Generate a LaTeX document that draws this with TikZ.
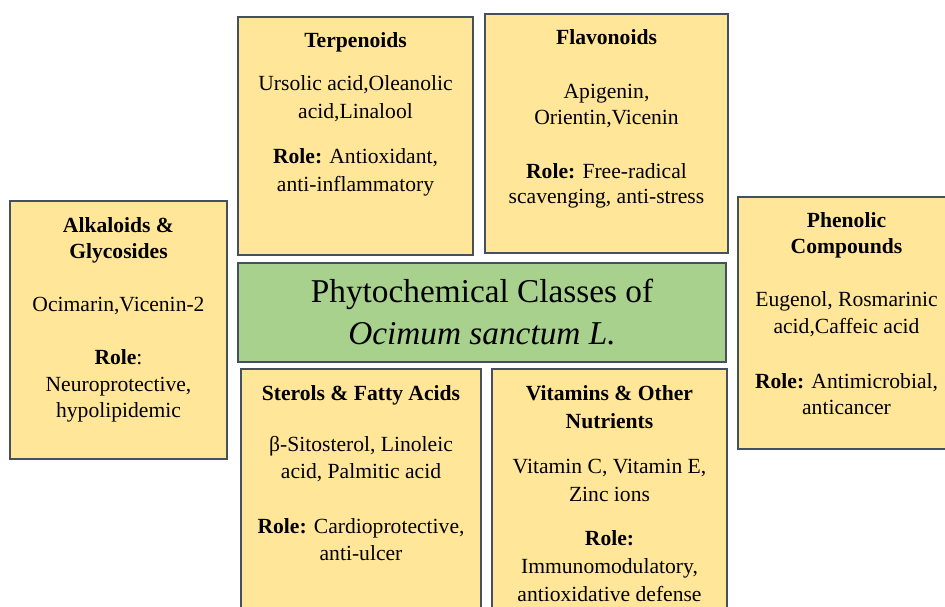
\documentclass[tikz,border=0pt]{standalone}
\usepackage{fontspec}
\setmainfont{Liberation Serif}
\newfontfamily\tnr{Liberation Serif}
\usepackage{tikz}
\usetikzlibrary{positioning}
\definecolor{gold}{HTML}{FFE699}
\definecolor{leaf}{HTML}{A9D18E}
\definecolor{edge}{HTML}{44505E}

\begin{document}
\begin{tikzpicture}[x=1pt, y=-1pt,
  cls/.style={draw=edge, line width=1.4pt, fill=gold, minimum width=#1, inner sep=0pt},
  hub/.style={draw=edge, line width=1.4pt, fill=leaf, minimum width=488pt, minimum height=99pt, align=center, font=\tnr\fontsize{33.3}{42}\selectfont},
  txt/.style={anchor=north, inner sep=0pt, align=center, font=\tnr\fontsize{21.6}{28}\selectfont}
]
\clip (0,0) rectangle (945,606);
\fill[white] (0,0) rectangle (945,606);

\node[cls=235pt, minimum height=238pt] (terp) at (355.5,136) {};
\node[cls=243pt, minimum height=239pt] (flav) at (606.5,133.5) {};
\node[cls=217pt, minimum height=258pt] (alk) at (118.5,330) {};
\node[cls=217pt, minimum height=252pt] (phen) at (846.5,323) {};
\node[cls=240pt, minimum height=256pt] (ster) at (361,497) {};
\node[cls=235pt, minimum height=256pt] (vit) at (609.5,497) {};
\node[hub] (core) at (482,312.5) {Phytochemical Classes of\\\textit{Ocimum sanctum L.}};

\node[txt] (terp-t) at (355.5,32.5) {\textbf{Terpenoids}\\[15pt]
  Ursolic acid,Oleanolic\\ acid,Linalool\\[17pt]
  \textbf{Role:} Antioxidant,\\ anti-inflammatory};
\node[txt, font=\tnr\fontsize{21.6}{25.5}\selectfont] (flav-t) at (606.5,29.5) {\textbf{Flavonoids}\\[28.5pt]
  Apigenin,\\ Orientin,Vicenin\\[28.5pt]
  \textbf{Role:} Free-radical\\ scavenging, anti-stress};
\node[txt, font=\tnr\fontsize{21.6}{26.5}\selectfont] (alk-t) at (118.5,217) {\textbf{Alkaloids \&}\\ \textbf{Glycosides}\\[26.5pt]
  Ocimarin,Vicenin-2\\[26.5pt]
  \textbf{Role}:\\ Neuroprotective,\\ hypolipidemic};
\node[txt, font=\tnr\fontsize{21.6}{26.5}\selectfont] (phen-t) at (846.5,212) {\textbf{Phenolic}\\ \textbf{Compounds}\\[26.5pt]
  Eugenol, Rosmarinic\\ acid,Caffeic acid\\[28.5pt]
  \textbf{Role:} Antimicrobial,\\ anticancer};
\node[txt, font=\tnr\fontsize{21.6}{27}\selectfont] (ster-t) at (361,385) {\textbf{Sterols \& Fatty Acids}\\[24pt]
  β-Sitosterol, Linoleic\\ acid, Palmitic acid\\[28pt]
  \textbf{Role:} Cardioprotective,\\ anti-ulcer};
\node[txt] (vit-t) at (609.5,385) {\textbf{Vitamins \& Other}\\ \textbf{Nutrients}\\[17pt]
  Vitamin C, Vitamin E,\\ Zinc ions\\[16pt]
  \textbf{Role:}\\ Immunomodulatory,\\ antioxidative defense};
\end{tikzpicture}
\end{document}
